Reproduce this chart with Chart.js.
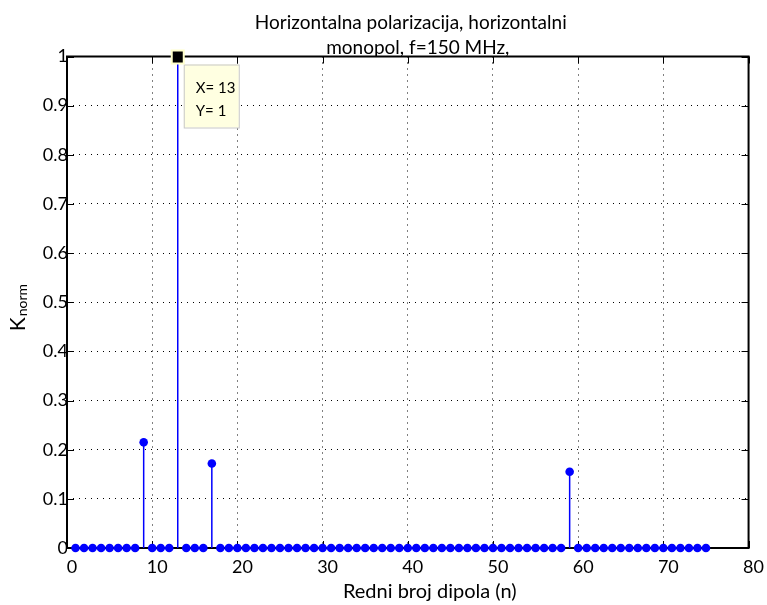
<!DOCTYPE html>
<html>
<head>
<meta charset="utf-8">
<script src="https://cdn.jsdelivr.net/npm/chart.js@4.4.0/dist/chart.umd.min.js"></script>
<style>
  html, body { margin: 0; padding: 0; background: #fff; }
  #wrap { width: 767px; height: 605px; }
</style>
</head>
<body>
<div id="wrap"><canvas id="stemChart" width="767" height="605"></canvas></div>
<script>
// dipole index (x) and normalised coefficient (y)
const dipoleNo = [
  1, 2, 3, 4, 5, 6, 7, 8, 9, 10, 11, 12, 13, 14, 15, 16, 17, 18, 19, 20,
  21, 22, 23, 24, 25, 26, 27, 28, 29, 30, 31, 32, 33, 34, 35, 36, 37, 38, 39, 40,
  41, 42, 43, 44, 45, 46, 47, 48, 49, 50, 51, 52, 53, 54, 55, 56, 57, 58, 59, 60,
  61, 62, 63, 64, 65, 66, 67, 68, 69, 70, 71, 72, 73, 74, 75
];
const kNorm = [
  0, 0, 0, 0, 0, 0, 0, 0, 0.215, 0, 0, 0, 1, 0, 0, 0, 0.172, 0, 0, 0,
  0, 0, 0, 0, 0, 0, 0, 0, 0, 0, 0, 0, 0, 0, 0, 0, 0, 0, 0, 0,
  0, 0, 0, 0, 0, 0, 0, 0, 0, 0, 0, 0, 0, 0, 0, 0, 0, 0, 0.155, 0,
  0, 0, 0, 0, 0, 0, 0, 0, 0, 0, 0, 0, 0, 0, 0
];
const xTicks = [0, 10, 20, 30, 40, 50, 60, 70, 80];
const yTicks = [0, 0.1, 0.2, 0.3, 0.4, 0.5, 0.6, 0.7, 0.8, 0.9, 1];
const yTickLabels = ['0', '0.1', '0.2', '0.3', '0.4', '0.5', '0.6', '0.7', '0.8', '0.9', '1'];
const titleLines = ['Horizontalna polarizacija, horizontalni', 'monopol, f=150 MHz,'];
const xTitle = 'Redni broj dipola (n)';
const yTitle = 'K';
const yTitleSub = 'norm';
const tipIndex = 12; // data tip on dipole 13

const FONT = 'Lato, "Open Sans", sans-serif';
const STEM_BLUE = '#0000ff';

// frame with inward ticks + stems, drawn under the markers
const stemPlugin = {
  id: 'stems',
  beforeDatasetsDraw(chart) {
    const ctx = chart.ctx;
    const xs = chart.scales.x, ys = chart.scales.y;
    const a = chart.chartArea;
    const tick = 7;
    ctx.save();
    ctx.strokeStyle = '#000';
    ctx.lineWidth = 2;
    ctx.strokeRect(a.left, a.top, a.right - a.left, a.bottom - a.top);
    ctx.beginPath();
    xTicks.forEach(v => {
      const px = Math.round(xs.getPixelForValue(v)) + 0.5;
      ctx.moveTo(px, a.bottom); ctx.lineTo(px, a.bottom - tick);
      ctx.moveTo(px, a.top); ctx.lineTo(px, a.top + tick);
    });
    yTicks.forEach(v => {
      const py = Math.round(ys.getPixelForValue(v)) + 0.5;
      ctx.moveTo(a.left, py); ctx.lineTo(a.left + tick, py);
      ctx.moveTo(a.right, py); ctx.lineTo(a.right - tick, py);
    });
    ctx.lineWidth = 1;
    ctx.stroke();

    // stems
    ctx.strokeStyle = STEM_BLUE;
    ctx.lineWidth = 1.5;
    ctx.beginPath();
    const y0 = ys.getPixelForValue(0);
    dipoleNo.forEach((xv, i) => {
      if (kNorm[i] === 0) return;
      const px = xs.getPixelForValue(xv);
      ctx.moveTo(px, y0);
      ctx.lineTo(px, ys.getPixelForValue(kNorm[i]));
    });
    ctx.stroke();
    ctx.restore();
  },
  afterDatasetsDraw(chart) {
    const ctx = chart.ctx;
    const xs = chart.scales.x, ys = chart.scales.y;
    const a = chart.chartArea;
    const midX = (a.left + a.right) / 2;
    const px = xs.getPixelForValue(dipoleNo[tipIndex]);
    const py = ys.getPixelForValue(kNorm[tipIndex]);

    // title, two lines (each sits a little right of centre, like the source)
    ctx.save();
    ctx.fillStyle = '#000';
    ctx.font = '19px ' + FONT;
    ctx.textAlign = 'center';
    ctx.textBaseline = 'alphabetic';
    ctx.fillText(titleLines[0], midX + 3, 29);
    ctx.fillText(titleLines[1], midX + 10, 54);
    ctx.restore();

    ctx.save();
    // data tip box
    ctx.fillStyle = '#ffffe1';
    ctx.strokeStyle = '#c8c8c8';
    ctx.lineWidth = 1;
    ctx.fillRect(px + 6, py + 8, 55, 63);
    ctx.strokeRect(px + 6.5, py + 8.5, 55, 63);
    ctx.fillStyle = '#000';
    ctx.font = '15px ' + FONT;
    ctx.textBaseline = 'alphabetic';
    ctx.fillText('X= ' + dipoleNo[tipIndex], px + 18, py + 36);
    ctx.fillText('Y= ' + kNorm[tipIndex], px + 18, py + 59);
    // square marker
    ctx.fillStyle = '#000';
    ctx.strokeStyle = '#ffffcc';
    ctx.lineWidth = 2;
    ctx.fillRect(px - 6, py - 6, 12, 13);
    ctx.strokeRect(px - 6, py - 6, 12, 13);
    ctx.restore();

    // x axis title (sits a bit right of centre, as in the source figure)
    ctx.save();
    ctx.fillStyle = '#000';
    ctx.font = '20px ' + FONT;
    ctx.textAlign = 'center';
    ctx.textBaseline = 'alphabetic';
    ctx.fillText(xTitle, midX + 22, 598);
    ctx.restore();

    // y axis title with subscript
    ctx.save();
    ctx.translate(25, 308);
    ctx.rotate(-Math.PI / 2);
    ctx.fillStyle = '#000';
    ctx.textBaseline = 'alphabetic';
    ctx.font = '21px ' + FONT;
    const wK = ctx.measureText(yTitle).width;
    ctx.font = '14px ' + FONT;
    const wSub = ctx.measureText(yTitleSub).width;
    const start = -(wK + wSub) / 2;
    ctx.font = '21px ' + FONT;
    ctx.fillText(yTitle, start, 0);
    ctx.font = '14px ' + FONT;
    ctx.fillText(yTitleSub, start + wK + 1, 2);
    ctx.restore();
  }
};

const points = dipoleNo.map((xv, i) => ({ x: xv, y: kNorm[i] }));

new Chart(document.getElementById('stemChart').getContext('2d'), {
  type: 'scatter',
  data: {
    datasets: [{
      data: points,
      pointRadius: 4.3,
      pointBackgroundColor: STEM_BLUE,
      pointBorderWidth: 0,
      showLine: false,
      clip: false
    }]
  },
  options: {
    responsive: false,
    animation: false,
    events: [],
    layout: { padding: { left: 0, right: 17, top: 56.5, bottom: 0 } },
    plugins: {
      legend: { display: false },
      tooltip: { enabled: false },
      title: { display: false }
    },
    scales: {
      x: {
        type: 'linear',
        min: 0,
        max: 80,
        afterBuildTicks: s => { s.ticks = xTicks.map(v => ({ value: v })); },
        afterFit: s => { s.height = 57; },
        ticks: {
          color: '#000',
          font: { family: FONT, size: 18 },
          padding: 8,
          labelOffset: 5,
          maxRotation: 0,
          autoSkip: false
        },
        grid: { color: '#000', lineWidth: 1, drawTicks: false },
        border: { display: false, dash: [1, 5] }
      },
      y: {
        type: 'linear',
        min: 0,
        max: 1,
        afterBuildTicks: s => { s.ticks = yTicks.map(v => ({ value: v })); },
        afterFit: s => { s.width = 67; },
        ticks: {
          color: '#000',
          font: { family: FONT, size: 18 },
          padding: -1,
          callback: v => yTickLabels[yTicks.indexOf(v)]
        },
        grid: { color: '#000', lineWidth: 1, drawTicks: false },
        border: { display: false, dash: [1, 5] }
      }
    }
  },
  plugins: [stemPlugin]
});
</script>
</body>
</html>
